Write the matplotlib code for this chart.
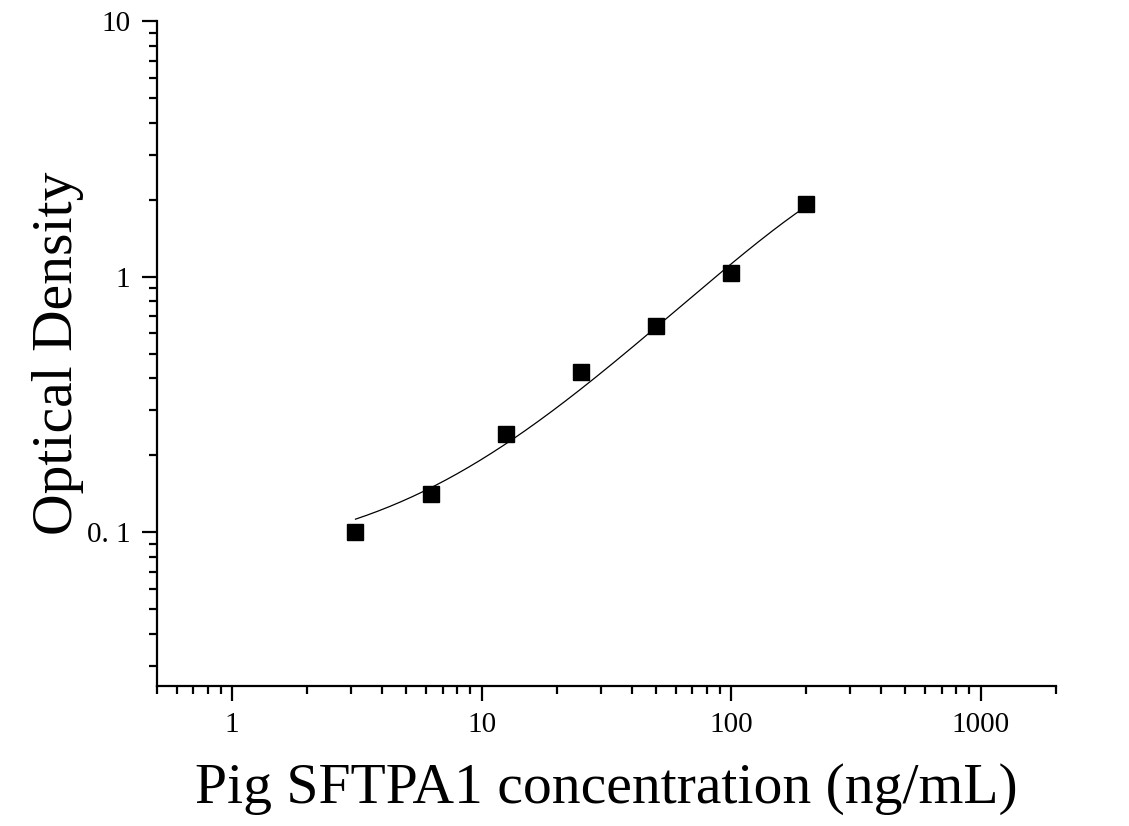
import numpy as np
import matplotlib.pyplot as plt
from matplotlib.ticker import LogLocator, FixedLocator, FixedFormatter, NullFormatter

# standard concentrations (ng/mL) and measured OD
conc = [3.125, 6.25, 12.5, 25, 50, 100, 200]
od = [0.100, 0.141, 0.242, 0.424, 0.643, 1.037, 1.915]

x_ticks = [1, 10, 100, 1000]
x_ticklabels = ['1', '10', '100', '1000']
y_ticks = [0.1, 1, 10]
y_ticklabels = ['0. 1', '1', '10']

plt.rcParams['font.family'] = ['Liberation Serif', 'DejaVu Serif']

fig = plt.figure(figsize=(11.29, 8.26), dpi=100)
ax = fig.add_axes([0.139, 0.1695, 0.796, 0.805])

ax.set_xscale('log')
ax.set_yscale('log')

# standard curve: quadratic fit, lightly weighted toward low OD
coef = np.polyfit(conc, od, 2, w=1 / np.sqrt(od))
xs = np.logspace(np.log10(conc[0]), np.log10(conc[-1]), 200)
ax.plot(xs, np.polyval(coef, xs), color='black', lw=0.9)

ax.plot(conc, od, 's', color='black', markersize=11, zorder=3)

ax.set_xlim(0.5, 2000)
ax.set_ylim(0.025, 10)

for s in ['top', 'right']:
    ax.spines[s].set_visible(False)
for s in ['left', 'bottom']:
    ax.spines[s].set_linewidth(1.6)

ax.xaxis.set_major_locator(FixedLocator(x_ticks))
ax.xaxis.set_major_formatter(FixedFormatter(x_ticklabels))
ax.yaxis.set_major_locator(FixedLocator(y_ticks))
ax.yaxis.set_major_formatter(FixedFormatter(y_ticklabels))
ax.xaxis.set_minor_locator(LogLocator(base=10, subs=np.arange(2, 10)))
ax.yaxis.set_minor_locator(LogLocator(base=10, subs=np.arange(2, 10)))
ax.xaxis.set_minor_formatter(NullFormatter())
ax.yaxis.set_minor_formatter(NullFormatter())

ax.tick_params(which='major', direction='out', length=11, width=1.6,
               labelsize=21, pad=8)
ax.tick_params(which='minor', direction='out', length=6, width=1.6)

ax.set_xlabel('Pig SFTPA1 concentration (ng/mL)', fontsize=41.5, labelpad=18)
ax.set_ylabel('Optical Density', fontsize=41.5, labelpad=2)

fig.savefig('out.png', dpi=100)
